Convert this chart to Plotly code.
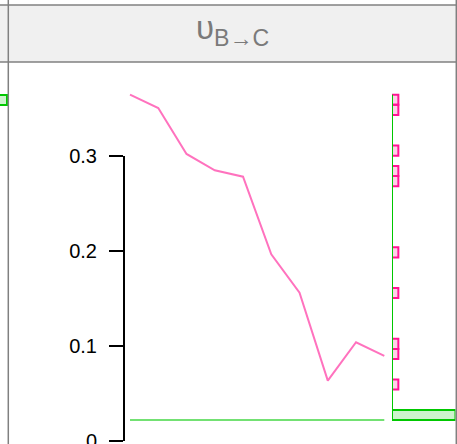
import numpy as np
import plotly.graph_objects as go

W, H = 457, 444

# series values (index 1..10)
steps = list(range(1, 11))
pink_vals = [0.364, 0.350, 0.3016, 0.2844, 0.2777, 0.196, 0.1556, 0.063, 0.1034, 0.089]
green_vals = [0.0215] * 10
tick_vals = [0, 0.1, 0.2, 0.3]
tick_text = ["0", "0.1", "0.2", "0.3"]
strip_label = "υ<sub>B→C</sub>"

# bit of the neighbouring panel's marginal bar that shows at the left edge
neighbour_bin = [0.3584]
neighbour_count = [10]
neighbour_bin_width = 0.0107

PINK_LINE = "rgba(255,20,147,0.6)"
PINK = "#ff1493"
GREEN_LINE = "rgba(0,200,0,0.55)"
GREEN = "#00c800"


def px_x(p):
    return p / W


def px_y(p):
    return (H - p) / H


# pixel mapping: value 0 -> 440.5px, 0.3 -> 155.5px
ppu = 950.0
y0_px = 440.5
y_range = [(y0_px - H) / ppu, (y0_px - 62) / ppu]

# marginal histogram over both series
all_vals = np.array(pink_vals + green_vals)
edges = np.histogram_bin_edges(all_vals, bins=32, range=(all_vals.min(), all_vals.max()))
bw = edges[1] - edges[0]
centers = (edges[:-1] + edges[1:]) / 2

fig = go.Figure()

fig.add_trace(go.Scatter(x=steps, y=pink_vals, mode="lines",
                         line=dict(color=PINK_LINE, width=2), xaxis="x", yaxis="y"))
fig.add_trace(go.Scatter(x=steps, y=green_vals, mode="lines",
                         line=dict(color=GREEN_LINE, width=2), xaxis="x", yaxis="y"))

for vals, col, fill in [(pink_vals, PINK, "rgba(255,20,147,0.2)"),
                        (green_vals, GREEN, "rgba(0,200,0,0.2)")]:
    counts, _ = np.histogram(vals, bins=edges)
    keep = counts > 0
    fig.add_trace(go.Bar(y=centers[keep], x=counts[keep], orientation="h", width=bw,
                         marker=dict(color=fill, line=dict(color=col, width=2)),
                         xaxis="x2", yaxis="y"))

# green spine of the marginal plot, min to max
fig.add_trace(go.Scatter(x=[0, 0], y=[all_vals.min(), all_vals.max()], mode="lines",
                         line=dict(color=GREEN, width=2), xaxis="x2", yaxis="y"))

fig.add_trace(go.Bar(y=neighbour_bin, x=neighbour_count, orientation="h", width=neighbour_bin_width,
                     marker=dict(color="rgba(0,200,0,0.2)", line=dict(color=GREEN, width=2)),
                     xaxis="x3", yaxis="y"))

# dummy trace so the R-style y axis gets drawn
fig.add_trace(go.Scatter(x=[1], y=[0], mode="markers", marker=dict(opacity=0),
                         xaxis="x", yaxis="y2", hoverinfo="skip"))

# x: step 1 -> 130px, step 10 -> 384.3px
xppu = (384.3 - 130) / 9
x_dom = [8, 392]
x_range = [1 + (x_dom[0] - 130) / xppu, 1 + (x_dom[1] - 130) / xppu]

fig.update_layout(
    width=W, height=H, autosize=False,
    margin=dict(l=0, r=0, t=0, b=0, pad=0, autoexpand=False),
    paper_bgcolor="white", plot_bgcolor="rgba(0,0,0,0)",
    showlegend=False, barmode="overlay",
    font=dict(family="Liberation Sans, Arial, sans-serif", color="black"),
    xaxis=dict(domain=[px_x(x_dom[0]), px_x(x_dom[1])], range=x_range, visible=False,
               anchor="y"),
    xaxis2=dict(domain=[px_x(392), px_x(455.5)], range=[0, 10], visible=False, anchor="y"),
    xaxis3=dict(domain=[0, px_x(8)], range=[5, 5 + 5 * 8 / 7], visible=False, anchor="y"),
    yaxis=dict(domain=[0, px_y(62)], range=y_range, visible=False),
    yaxis2=dict(domain=[px_y(y0_px), px_y(155.5)], range=[0, 0.3], anchor="free",
                position=px_x(124), side="left", showline=True, linecolor="black",
                linewidth=2, ticks="outside", ticklen=14, tickwidth=2, tickcolor="black",
                tickvals=tick_vals, ticktext=tick_text, showgrid=False, zeroline=False,
                tickfont=dict(size=20), ticklabelstandoff=8, automargin=False,
                ticklabeloverflow="allow"),
    shapes=[
        dict(type="rect", xref="paper", yref="paper", x0=0, x1=1, y0=px_y(62), y1=px_y(5),
             fillcolor="#f0f0f0", line=dict(width=0), layer="below"),
        dict(type="line", xref="paper", yref="paper", x0=0, x1=1, y0=px_y(5), y1=px_y(5),
             line=dict(color="#808080", width=1.5)),
        dict(type="line", xref="paper", yref="paper", x0=0, x1=1, y0=px_y(62), y1=px_y(62),
             line=dict(color="#808080", width=1.5)),
        dict(type="line", xref="paper", yref="paper", x0=px_x(8.3), x1=px_x(8.3), y0=0, y1=1,
             line=dict(color="#808080", width=1.5)),
        dict(type="line", xref="paper", yref="paper", x0=px_x(456.3), x1=px_x(456.3), y0=0, y1=1,
             line=dict(color="#808080", width=1.5)),
    ],
    annotations=[
        dict(text=strip_label, xref="paper", yref="paper", x=px_x(232), y=px_y(30),
             xanchor="center", yanchor="middle", showarrow=False,
             font=dict(size=33, color="#7a7a7a")),
    ],
)

# page has a default 8px body margin, drop it so the figure sits at 0,0
fig.write_html("out.html", config={"displayModeBar": False},
               post_script="document.body.style.margin='0';")
